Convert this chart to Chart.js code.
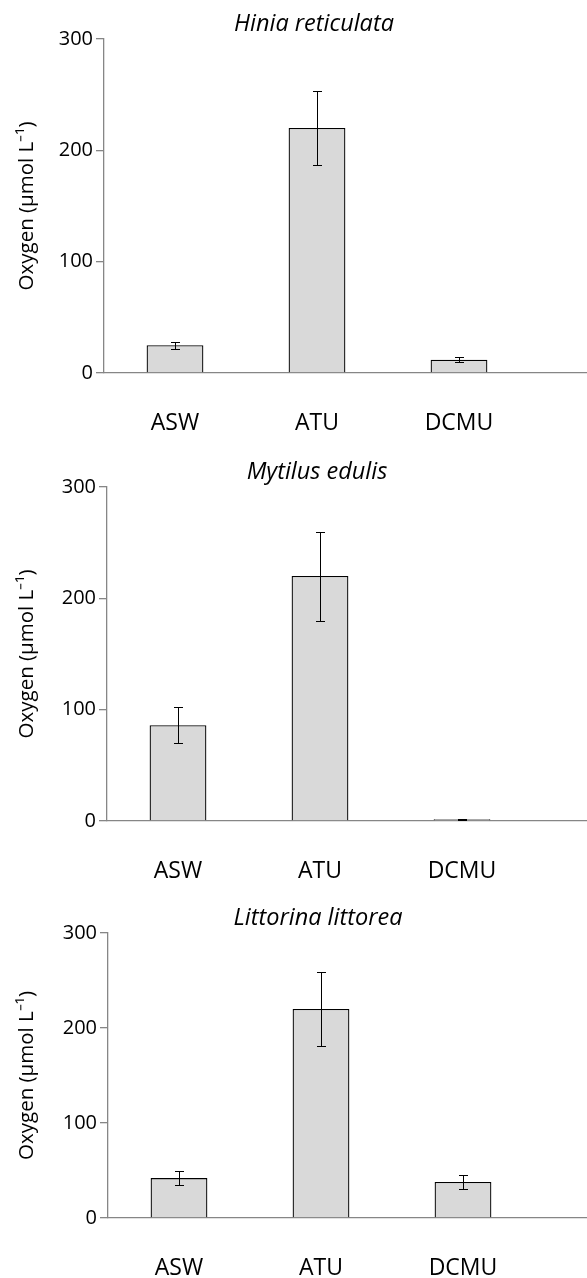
<!DOCTYPE html>
<html>
<head>
<meta charset="utf-8">
<script src="https://cdn.jsdelivr.net/npm/chart.js@4.4.1/dist/chart.umd.min.js"></script>
<style>
  html, body { margin: 0; padding: 0; background: #fff; overflow: hidden; }
  .panel { position: absolute; left: 0; width: 587px; }
</style>
</head>
<body>
<div class="panel" style="top:0px"><canvas id="chart-hinia" width="587" height="440"></canvas></div>
<div class="panel" style="top:440px"><canvas id="chart-mytilus" width="587" height="440"></canvas></div>
<div class="panel" style="top:880px"><canvas id="chart-littorina" width="587" height="398"></canvas></div>
<script>
const categories = ['ASW', 'ATU', 'DCMU'];
const yTicks = [0, 100, 200, 300];

const hiniaMeans = [25, 220, 12];
const hiniaErrors = [3, 33, 2];

const mytilusMeans = [86, 220, 1.5];
const mytilusErrors = [16, 40, 0.5];

const littorinaMeans = [42, 220, 38];
const littorinaErrors = [7.5, 39, 7];

const FONT = '"Open Sans", "Liberation Sans", sans-serif';
const AXIS_GREY = '#868686';
const SPACING = 142; // px per category, as in the original

// draws the mean +/- error whiskers from the dataset's own scales
const errorBars = {
    id: 'errorBars',
    afterDatasetsDraw(chart, args, opts) {
        const { ctx } = chart;
        const xs = chart.scales.x, ys = chart.scales.y;
        ctx.save();
        ctx.strokeStyle = '#000';
        ctx.lineWidth = 1;
        opts.means.forEach((m, i) => {
            const x = Math.round(xs.getPixelForValue(i)) + 0.5;
            const top = Math.round(ys.getPixelForValue(m + opts.errors[i])) + 0.5;
            const bot = Math.round(ys.getPixelForValue(m - opts.errors[i])) + 0.5;
            ctx.beginPath();
            ctx.moveTo(x, top); ctx.lineTo(x, bot);
            ctx.moveTo(x - 4.5, top); ctx.lineTo(x + 4.5, top);
            ctx.moveTo(x - 4.5, bot); ctx.lineTo(x + 4.5, bot);
            ctx.stroke();
        });
        ctx.restore();
    }
};

// species name, centred over the middle category
const speciesTitle = {
    id: 'speciesTitle',
    afterDraw(chart, args, opts) {
        const { ctx } = chart;
        const x = chart.scales.x.getPixelForValue(1);
        ctx.save();
        ctx.font = 'italic 23.5px ' + FONT;
        ctx.fillStyle = '#000';
        ctx.textAlign = 'center';
        ctx.textBaseline = 'alphabetic';
        ctx.fillText(opts.text, x - 3, chart.chartArea.top - 8);
        ctx.restore();
    }
};

function makeChart(id, name, means, errors, layout) {
    const xMax = -0.5 + (587 - layout.axisLeft) / SPACING;
    return new Chart(document.getElementById(id), {
        type: 'bar',
        data: {
            datasets: [{
                data: means.map((v, i) => ({ x: i, y: v })),
                backgroundColor: '#d9d9d9',
                borderColor: '#000',
                borderWidth: 1.3,
                barPercentage: 0.4,
                categoryPercentage: 1
            }]
        },
        options: {
            responsive: false,
            animation: false,
            layout: { padding: { top: layout.plotTop, left: 0, right: 0, bottom: 0 } },
            plugins: {
                legend: { display: false },
                tooltip: { enabled: false },
                errorBars: { means: means, errors: errors },
                speciesTitle: { text: name }
            },
            scales: {
                x: {
                    type: 'linear',
                    offset: false,
                    min: -0.5,
                    max: xMax,
                    grid: { display: false, offset: false },
                    border: { display: true, color: AXIS_GREY, width: 1.3 },
                    afterBuildTicks: s => { s.ticks = categories.map((c, i) => ({ value: i })); },
                    afterFit: s => { s.height = layout.height - layout.plotBottom; },
                    ticks: {
                        autoSkip: false,
                        maxRotation: 0,
                        padding: 29,
                        color: '#000',
                        font: { family: FONT, size: 23 },
                        callback: v => categories[v]
                    }
                },
                y: {
                    min: 0,
                    max: 300,
                    afterBuildTicks: s => { s.ticks = yTicks.map(v => ({ value: v })); },
                    afterFit: s => { s.width = layout.axisLeft; },
                    grid: {
                        drawOnChartArea: false,
                        drawTicks: true,
                        tickLength: 8,
                        color: AXIS_GREY,
                        lineWidth: 1.3
                    },
                    border: { display: true, color: AXIS_GREY, width: 1.3 },
                    ticks: {
                        padding: 3,
                        color: '#000',
                        font: { family: FONT, size: 20 }
                    },
                    title: {
                        display: true,
                        text: 'Oxygen (µmol L⁻¹)',
                        color: '#000',
                        font: { family: FONT, size: 20.5 },
                        padding: { top: 15, bottom: 0 }
                    }
                }
            }
        },
        plugins: [errorBars, speciesTitle]
    });
}

makeChart('chart-hinia', 'Hinia reticulata', hiniaMeans, hiniaErrors,
    { height: 440, plotTop: 39, plotBottom: 373, axisLeft: 104 });
makeChart('chart-mytilus', 'Mytilus edulis', mytilusMeans, mytilusErrors,
    { height: 440, plotTop: 47, plotBottom: 381, axisLeft: 107 });
makeChart('chart-littorina', 'Littorina littorea', littorinaMeans, littorinaErrors,
    { height: 398, plotTop: 53, plotBottom: 338, axisLeft: 108 });
</script>
</body>
</html>
